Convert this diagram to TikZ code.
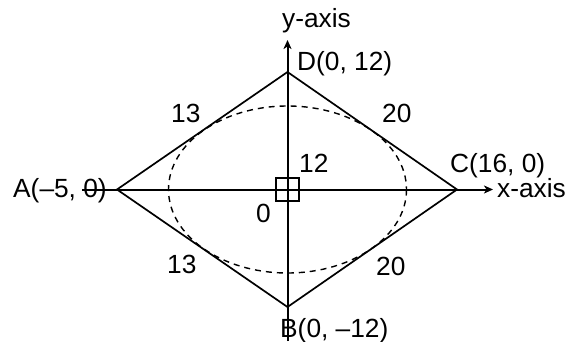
\documentclass[tikz,border=0pt]{standalone}
\usepackage{fontspec}
\setmainfont{Liberation Sans}
\usetikzlibrary{arrows.meta}
\begin{document}
\begin{tikzpicture}[x=1pt,y=-1pt,
  lbl/.style={anchor=base west,inner sep=0pt,font=\fontsize{26.3}{30}\selectfont},
  axis/.style={line width=2pt,-{Stealth[length=9pt,width=8pt,inset=2.5pt]}},
  side/.style={line width=1.7pt},
  ell/.style={line width=1.4pt,dash pattern=on 6pt off 5pt}]
\useasboundingbox (0,0) rectangle (572,342);
\coordinate (O) at (287.5,189.5);
\coordinate (A) at (117,189.5);
\coordinate (C) at (457,189.5);
\coordinate (D) at (287.5,72);
\coordinate (B) at (287.5,307);
\coordinate (xs) at (82,189.5);
\coordinate (xe) at (493,189.5);
\coordinate (ys) at (287.5,341);
\coordinate (ye) at (287.5,40);
% ellipse
\draw[ell] (O) ellipse [x radius=119, y radius=83.5];
% rhombus
\draw[side,line join=miter] (A) -- (D) -- (C) -- (B) -- cycle;
% axes
\draw[axis] (xs) -- (xe);
\draw[axis] (ys) -- (ye);
% right-angle square
\draw[line width=1.6pt] (276,178) rectangle (299,201);
% labels
\node[lbl] (lA) at (13,197) {A(–5, 0)};
\node[lbl] (lC) at (450,172) {C(16, 0)};
\node[lbl] (lD) at (297,71) {D(0, 12)};
\node[lbl] (lB) at (280,337) {B(0, –12)};
\node[lbl] (lx) at (497,197) {x-axis};
\node[lbl] (ly) at (282,28) {y-axis};
\node[lbl] (l12) at (299,172) {12};
\node[lbl] (l0) at (256,222) {0};
\node[lbl] (l13a) at (171,122) {13};
\node[lbl] (l20a) at (382,122) {20};
\node[lbl] (l13b) at (167,273) {13};
\node[lbl] (l20b) at (376,275) {20};
\end{tikzpicture}
\end{document}
